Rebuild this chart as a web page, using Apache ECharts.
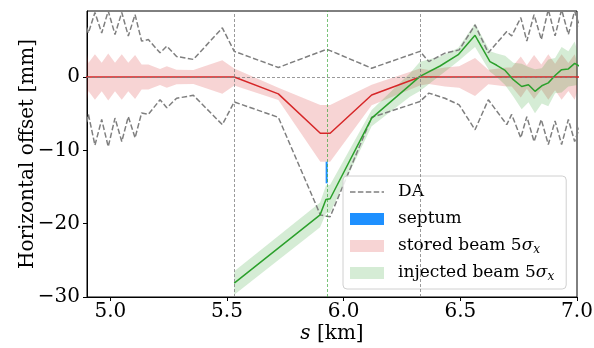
<!DOCTYPE html>
<html>
<head>
<meta charset="utf-8">
<script src="https://cdn.jsdelivr.net/npm/echarts@6/dist/echarts.min.js"></script>
<style>html,body{margin:0;padding:0;background:#fff}#c{width:594px;height:348px}</style>
</head>
<body>
<div id="c"></div>
<script>
// lattice positions [km]
var sPos = [4.877, 4.906, 4.934, 4.963, 4.991, 5.020, 5.049, 5.077, 5.106, 5.134, 5.163, 5.213, 5.242, 5.284, 5.356, 5.480, 5.531, 5.720, 5.900, 5.927, 5.942, 6.120, 6.327, 6.365, 6.434, 6.495, 6.563, 6.620, 6.699, 6.720, 6.759, 6.785, 6.816, 6.847, 6.877, 6.906, 6.934, 6.963, 6.990, 7.020];
// dynamic aperture (upper / lower) [mm]
var daUpper = [8.8, 6.0, 8.8, 6.0, 9.0, 5.8, 8.8, 5.6, 8.5, 4.9, 5.1, 3.3, 4.2, 2.8, 2.4, 6.7, 3.5, 1.3, 3.45, 3.77, 3.6, 1.2, 3.5, 2.1, 3.25, 3.7, 7.1, 3.3, 6.2, 5.6, 8.1, 4.9, 8.5, 5.1, 9.2, 5.6, 9.2, 5.8, 9.0, 6.0];
var daLower = [-9.3, -5.1, -9.3, -5.8, -9.5, -5.6, -8.8, -5.4, -8.3, -4.9, -5.1, -3.1, -4.2, -2.9, -2.5, -6.5, -3.4, -5.5, -18.8, -19.0, -19.05, -5.5, -3.35, -2.2, -2.9, -3.8, -7.2, -3.1, -6.5, -5.1, -8.3, -5.4, -8.8, -5.8, -9.2, -6.0, -9.2, -5.8, -8.8, -6.0];
// stored beam centroid and 5 sigma half width [mm]
var storedCenter = [0, 0, 0, 0, 0, 0, 0, 0, 0, 0, 0, 0, 0, 0, 0, 0, 0, -2.3, -7.68, -7.68, -7.68, -2.45, 0, 0, 0, 0, 0, 0, 0, 0, 0, 0, 0, 0, 0, 0, 0, 0, 0, 0];
var storedHalf = [3.1, 1.9, 3.1, 1.95, 3.2, 1.95, 3.1, 1.95, 3.0, 1.7, 1.7, 1.1, 1.45, 1.0, 0.97, 2.3, 1.15, 0.85, 3.87, 3.87, 3.87, 1.4, 1.15, 0.95, 1.3, 1.45, 2.6, 1.0, 1.3, 1.3, 2.8, 1.6, 3.0, 1.7, 3.1, 1.8, 3.1, 1.9, 3.1, 2.0];
// injected beam centroid and 5 sigma half width [mm]
var injS = [5.531, 5.899, 5.924, 5.942, 6.120, 6.284, 6.327, 6.413, 6.491, 6.563, 6.627, 6.656, 6.692, 6.727, 6.763, 6.792, 6.820, 6.849, 6.877, 6.906, 6.934, 6.963, 6.990, 7.020];
var injCenter = [-28.1, -18.8, -16.7, -16.6, -5.6, -1.1, 0.09, 1.5, 3.04, 5.68, 2.1, 1.6, 0.9, -0.36, -1.3, -1.05, -1.95, -1.2, -0.8, 0.2, 1.0, 1.1, 1.85, 1.3];
var injHalf = [1.6, 1.7, 1.9, 1.9, 1.1, 1.6, 2.0, 1.3, 0.9, 1.6, 1.4, 1.6, 2.0, 2.3, 3.1, 2.4, 3.0, 2.4, 3.2, 2.4, 3.1, 2.4, 3.0, 2.4];
// septum
var septumS = [5.927, 5.927];
var septumY = [-11.55, -14.5];
// reference lines
var vGray = [5.531, 6.327];
var vGreen = [5.927];
// ticks
var xTicks = [5.0, 5.5, 6.0, 6.5, 7.0];
var yTicks = [-30, -20, -10, 0];

function pairs(xs, ys) { return xs.map(function (x, i) { return [x, ys[i]]; }); }
// band rows: [s, low, high]
var stBand = sPos.map(function (s, i) { return [s, storedCenter[i] - storedHalf[i], storedCenter[i] + storedHalf[i]]; });
var inBand = injS.map(function (s, i) { return [s, injCenter[i] - injHalf[i], injCenter[i] + injHalf[i]]; });

function bandRenderer(rows, color) {
  return function (params, api) {
    if (params.dataIndex !== 0) return null;
    var top = [], bot = [];
    rows.forEach(function (r) { top.push(api.coord([r[0], r[2]])); bot.push(api.coord([r[0], r[1]])); });
    var pts = top.concat(bot.reverse());
    var cs = params.coordSys;
    pts = echarts.graphic.clipPointsByRect(pts, { x: cs.x, y: cs.y, width: cs.width, height: cs.height });
    return { type: 'polygon', shape: { points: pts }, style: { fill: color }, silent: true };
  };
}

var FONT = 'DejaVu Serif';
var NAME_ST = 'stored beam 5σx';
var NAME_IN = 'injected beam 5σx';
var DASH_ICON = 'path://M0,0h5.5v1.5h-5.5z M7.9,0h5.5v1.5h-5.5z M15.8,0h5.5v1.5h-5.5z M23.7,0h5.5v1.5h-5.5z M31.6,0h2.4v1.5h-2.4z';
var chart = echarts.init(document.getElementById('c'), null, { renderer: 'canvas' });
chart.setOption({
  animation: false,
  backgroundColor: '#fff',
  grid: { left: 87, right: 17, top: 11, bottom: 51, outerBoundsMode: 'none', containLabel: false, show: true, borderColor: '#000', borderWidth: 1, backgroundColor: 'transparent' },
  xAxis: {
    type: 'value', min: 4.9, max: 7.0,
    splitLine: { show: false },
    axisLine: { show: true, onZero: false, lineStyle: { color: '#000', width: 1 } },
    axisTick: { show: true, inside: false, length: 4, lineStyle: { color: '#000' }, customValues: xTicks },
    axisLabel: { customValues: xTicks, formatter: function (v) { return v.toFixed(1); }, fontFamily: FONT, fontSize: 20, color: '#000', margin: 5 },
    name: '{i|s} [km]', nameLocation: 'middle', nameGap: 27, nameMoveOverlap: false,
    nameTextStyle: { fontFamily: FONT, fontSize: 20, color: '#000', rich: { i: { fontFamily: FONT, fontStyle: 'italic', fontSize: 20, color: '#000' } } }
  },
  yAxis: {
    type: 'value', min: -30, max: 9,
    splitLine: { show: false },
    axisLine: { show: true, onZero: false, lineStyle: { color: '#000', width: 1 } },
    axisTick: { show: true, inside: false, length: 4, lineStyle: { color: '#000' }, customValues: yTicks },
    axisLabel: { customValues: yTicks, formatter: function (v) { return v < 0 ? '\u2212' + Math.abs(v) : String(v); }, fontFamily: FONT, fontSize: 20, color: '#000', margin: 7 },
    name: 'Horizontal offset [mm]', nameLocation: 'middle', nameGap: 49, nameMoveOverlap: false,
    nameTextStyle: { fontFamily: FONT, fontSize: 20, color: '#000' }
  },
  legend: {
    orient: 'vertical', left: 343, top: 176,
    padding: [6, 12, 6, 7], itemGap: 7, itemWidth: 34, itemHeight: 12,
    backgroundColor: 'rgba(255,255,255,0.85)', borderColor: '#d0d0d0', borderWidth: 1, borderRadius: 4,
    textStyle: { fontFamily: FONT, fontSize: 17, color: '#000', lineHeight: 20, padding: [0, 0, 0, 9],
      rich: { g: { fontFamily: FONT, fontSize: 17, fontStyle: 'italic', color: '#000', lineHeight: 20 },
              sub: { fontFamily: FONT, fontSize: 12, fontStyle: 'italic', color: '#000', lineHeight: 7, verticalAlign: 'bottom' } } },
    formatter: function (n) {
      if (n === NAME_ST) return 'stored beam 5{g|σ}{sub|x}';
      if (n === NAME_IN) return 'injected beam 5{g|σ}{sub|x}';
      return n;
    },
    data: [
      { name: 'DA', icon: DASH_ICON, itemStyle: { color: '#7f7f7f' } },
      { name: 'septum', icon: 'rect', itemStyle: { color: '#1e90ff' } },
      { name: NAME_ST, icon: 'rect', itemStyle: { color: 'rgba(214,39,40,0.2)' } },
      { name: NAME_IN, icon: 'rect', itemStyle: { color: 'rgba(44,160,44,0.2)' } }
    ]
  },
  series: [
    { name: '_ref', type: 'line', data: [], z: 1, silent: true,
      markLine: { silent: true, symbol: 'none', label: { show: false },
        data: [
          { yAxis: 0, lineStyle: { color: '#808080', type: [3, 2], width: 0.8 } },
          { xAxis: vGray[0], lineStyle: { color: '#808080', type: [3, 2], width: 0.8 } },
          { xAxis: vGray[1], lineStyle: { color: '#808080', type: [3, 2], width: 0.8 } },
          { xAxis: vGreen[0], lineStyle: { color: 'rgba(44,160,44,0.8)', type: [3, 2], width: 0.8 } }
        ] } },
    { name: NAME_ST, type: 'custom', data: stBand, encode: { x: 0, y: [1, 2] }, renderItem: bandRenderer(stBand, 'rgba(214,39,40,0.2)'), itemStyle: { color: 'rgba(214,39,40,0.2)' }, z: 2, silent: true },
    { name: NAME_IN, type: 'custom', data: inBand, encode: { x: 0, y: [1, 2] }, renderItem: bandRenderer(inBand, 'rgba(44,160,44,0.2)'), itemStyle: { color: 'rgba(44,160,44,0.2)' }, z: 2, silent: true },
    { name: 'DA', type: 'line', data: pairs(sPos, daUpper), symbol: 'none', lineStyle: { color: '#7f7f7f', width: 1.5, type: [5.5, 2.4] }, itemStyle: { color: '#7f7f7f' }, z: 3 },
    { name: 'DA', type: 'line', data: pairs(sPos, daLower), symbol: 'none', lineStyle: { color: '#7f7f7f', width: 1.5, type: [5.5, 2.4] }, itemStyle: { color: '#7f7f7f' }, z: 3 },
    { name: 'septum', type: 'line', data: pairs(septumS, septumY), symbol: 'none', lineStyle: { color: '#1e90ff', width: 2 }, itemStyle: { color: '#1e90ff' }, z: 4 },
    { name: '_stC', type: 'line', data: pairs(sPos, storedCenter), symbol: 'none', lineStyle: { color: '#d62728', width: 1.5 }, z: 4 },
    { name: '_inC', type: 'line', data: pairs(injS, injCenter), symbol: 'none', lineStyle: { color: '#2ca02c', width: 1.5 }, z: 4 }
  ]
});
</script>
</body>
</html>
